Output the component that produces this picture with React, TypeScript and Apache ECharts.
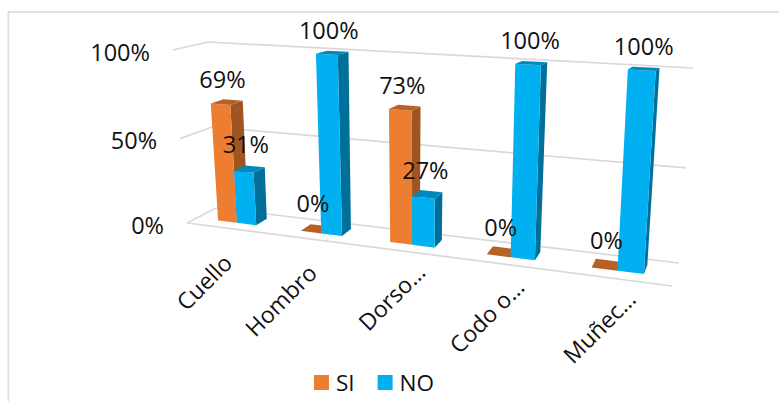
import React, { useEffect, useRef } from "react";
import * as echarts from "echarts";

const categories = ["Cuello", "Hombro", "Dorso…", "Codo o…", "Muñec…"];
const siValues = [69, 0, 73, 0, 0];
const noValues = [31, 100, 27, 100, 100];
const valueTicks = [0, 50, 100];

const WIDTH = 779;
const HEIGHT = 401;
const FONT = "'Open Sans', 'Noto Sans', sans-serif";

// Corners of the 3D box: [across, up, depth] -> screen position.
const BOX = {
  frontLeftBottom: [187, 223],
  frontLeftTop: [173, 50],
  backLeftBottom: [216, 208],
  backLeftTop: [208, 42],
  frontRightBottom: [672, 286],
  frontRightTop: [685, 75],
  backRightBottom: [679, 263],
  backRightTop: [693, 68],
};

const ACROSS_WARP = 0.82;
const UP_WARP = 0.953;
const BAR_WIDTH = 0.235; // share of a category band
const BAR_DEPTH_FRONT = 0.35;
const BAR_DEPTH_BACK = 0.75;

const warp = (t: number, w: number) => (t * w) / (1 - t + t * w);
const mix = (a: number[], b: number[], t: number) => [
  a[0] + (b[0] - a[0]) * t,
  a[1] + (b[1] - a[1]) * t,
];

// Projects a point of the unit box onto the screen, with foreshortening along the width and height.
function project(across: number, up: number, depth: number) {
  const u = warp(across, ACROSS_WARP);
  const v = warp(up, UP_WARP);
  const front = mix(
    mix(BOX.frontLeftBottom, BOX.frontRightBottom, u),
    mix(BOX.frontLeftTop, BOX.frontRightTop, u),
    v,
  );
  const back = mix(
    mix(BOX.backLeftBottom, BOX.backRightBottom, u),
    mix(BOX.backLeftTop, BOX.backRightTop, u),
    v,
  );
  return mix(front, back, depth);
}

// Normalised box position of a category/value pair.
function toBox(api: any, category: number, value: number) {
  const p = api.coord([category, value]);
  return [p[0] / WIDTH, 1 - p[1] / HEIGHT];
}

const poly = (points: number[][], fill: string) => ({
  type: "polygon",
  silent: true,
  shape: { points },
  style: { fill, stroke: null },
});

const line = (a: number[], b: number[]) => ({
  type: "line",
  silent: true,
  shape: { x1: a[0], y1: a[1], x2: b[0], y2: b[1] },
  style: { stroke: "#D9D9D9", lineWidth: 1.7 },
});

const text = (
  x: number,
  y: number,
  content: string,
  align: string,
  size: number,
  rotation = 0,
) => ({
  type: "text",
  silent: true,
  x,
  y,
  rotation,
  style: {
    text: content,
    x: 0,
    y: 0,
    align,
    verticalAlign: "middle",
    fill: "#111111",
    font: `${size}px ${FONT}`,
  },
});

const categoryLabelNudge = [
  [0, 30],
  [-1, 29],
  [15, 16],
  [14, 18],
  [17, 16],
];

function renderFrame(_: any, api: any) {
  const children: any[] = [];
  valueTicks.forEach((tick) => {
    const up = toBox(api, 0, tick)[1];
    const frontLeft = project(0, up, 0);
    const backLeft = project(0, up, 1);
    const backRight = project(1, up, 1);
    children.push(line(frontLeft, backLeft), line(backLeft, backRight));
    children.push(text(frontLeft[0] - 23, frontLeft[1] + 1.5, `${tick}%`, "right", 23.5));
  });
  children.push(line(project(0, 0, 0), project(1, 0, 0)));
  categories.forEach((name, i) => {
    const across = toBox(api, i, 0)[0];
    const base = project(across, 0, 0);
    const [dx, dy] = categoryLabelNudge[i];
    children.push(text(base[0] + dx, base[1] + dy, name, "right", 23, Math.PI / 4));
  });
  return { type: "group", children };
}

function barRenderer(side: -1 | 1, front: string, shade: string, top: string) {
  return (_: any, api: any) => {
    const category = api.value(0);
    const value = api.value(1);
    const [center, up] = toBox(api, category, value);
    const width = (api.size([1, 0])[0] / WIDTH) * BAR_WIDTH;
    const left = side < 0 ? center - width : center;
    const right = side < 0 ? center : center + width;
    const d0 = BAR_DEPTH_FRONT;
    const d1 = BAR_DEPTH_BACK;
    const children: any[] = [];
    if (value > 0) {
      children.push(
        poly(
          [project(right, 0, d0), project(right, 0, d1), project(right, up, d1), project(right, up, d0)],
          shade,
        ),
        poly(
          [project(left, 0, d0), project(right, 0, d0), project(right, up, d0), project(left, up, d0)],
          front,
        ),
      );
    }
    children.push(
      poly(
        [project(left, up, d0), project(right, up, d0), project(right, up, d1), project(left, up, d1)],
        top,
      ),
    );
    return { type: "group", children };
  };
}

function labelRenderer(side: -1 | 1) {
  return (_: any, api: any) => {
    const value = api.value(1);
    const [center, up] = toBox(api, api.value(0), value);
    const width = (api.size([1, 0])[0] / WIDTH) * BAR_WIDTH;
    const p = project(center + (side * width) / 2, up, BAR_DEPTH_FRONT);
    return text(p[0] + 2, p[1] - 29 + 5 * up, `${value}%`, "center", 23.5);
  };
}

const pairs = (values: number[]) => values.map((v, i) => [i, v]);

export default function App() {
  const ref = useRef<HTMLDivElement>(null);

  useEffect(() => {
    document.body.style.margin = "0";
    document.body.style.background = "#ffffff";
    const chart = echarts.init(ref.current!, undefined, { renderer: "svg" });
    chart.setOption({
      animation: false,
      backgroundColor: "#ffffff",
      grid: { left: 0, right: 0, top: 0, bottom: 0 },
      xAxis: { type: "category", data: categories, show: false },
      yAxis: { type: "value", min: 0, max: 100, show: false },
      legend: {
        data: ["SI", "NO"],
        left: 314,
        top: 371,
        padding: 0,
        icon: "rect",
        itemWidth: 15,
        itemHeight: 15,
        itemGap: 23,
        selectedMode: false,
        textStyle: { fontFamily: FONT, fontSize: 22.5, color: "#111111", padding: [0, 0, 0, 2] },
      },
      graphic: [
        {
          type: "polyline",
          silent: true,
          shape: { points: [[8.3, HEIGHT], [8.3, 11.8], [WIDTH, 11.8]] },
          style: { stroke: "#DDDDDD", lineWidth: 1.7, fill: null },
        },
      ],
      series: [
        {
          type: "custom",
          name: "frame",
          data: [[0, 0]],
          renderItem: renderFrame,
          silent: true,
          z: 1,
        },
        {
          type: "custom",
          name: "SI",
          data: pairs(siValues),
          itemStyle: { color: "#ED7D31" },
          renderItem: barRenderer(-1, "#ED7D31", "#9E5521", "#B86125"),
          silent: true,
          z: 2,
        },
        {
          type: "custom",
          name: "NO",
          data: pairs(noValues),
          itemStyle: { color: "#00B0F0" },
          renderItem: barRenderer(1, "#00B0F0", "#00709A", "#0089BC"),
          silent: true,
          z: 3,
        },
        {
          type: "custom",
          name: "siLabels",
          data: pairs(siValues),
          renderItem: labelRenderer(-1),
          silent: true,
          z: 4,
        },
        {
          type: "custom",
          name: "noLabels",
          data: pairs(noValues),
          renderItem: labelRenderer(1),
          silent: true,
          z: 4,
        },
      ],
    });
    return () => chart.dispose();
  }, []);

  return <div ref={ref} style={{ width: WIDTH, height: HEIGHT }} />;
}
